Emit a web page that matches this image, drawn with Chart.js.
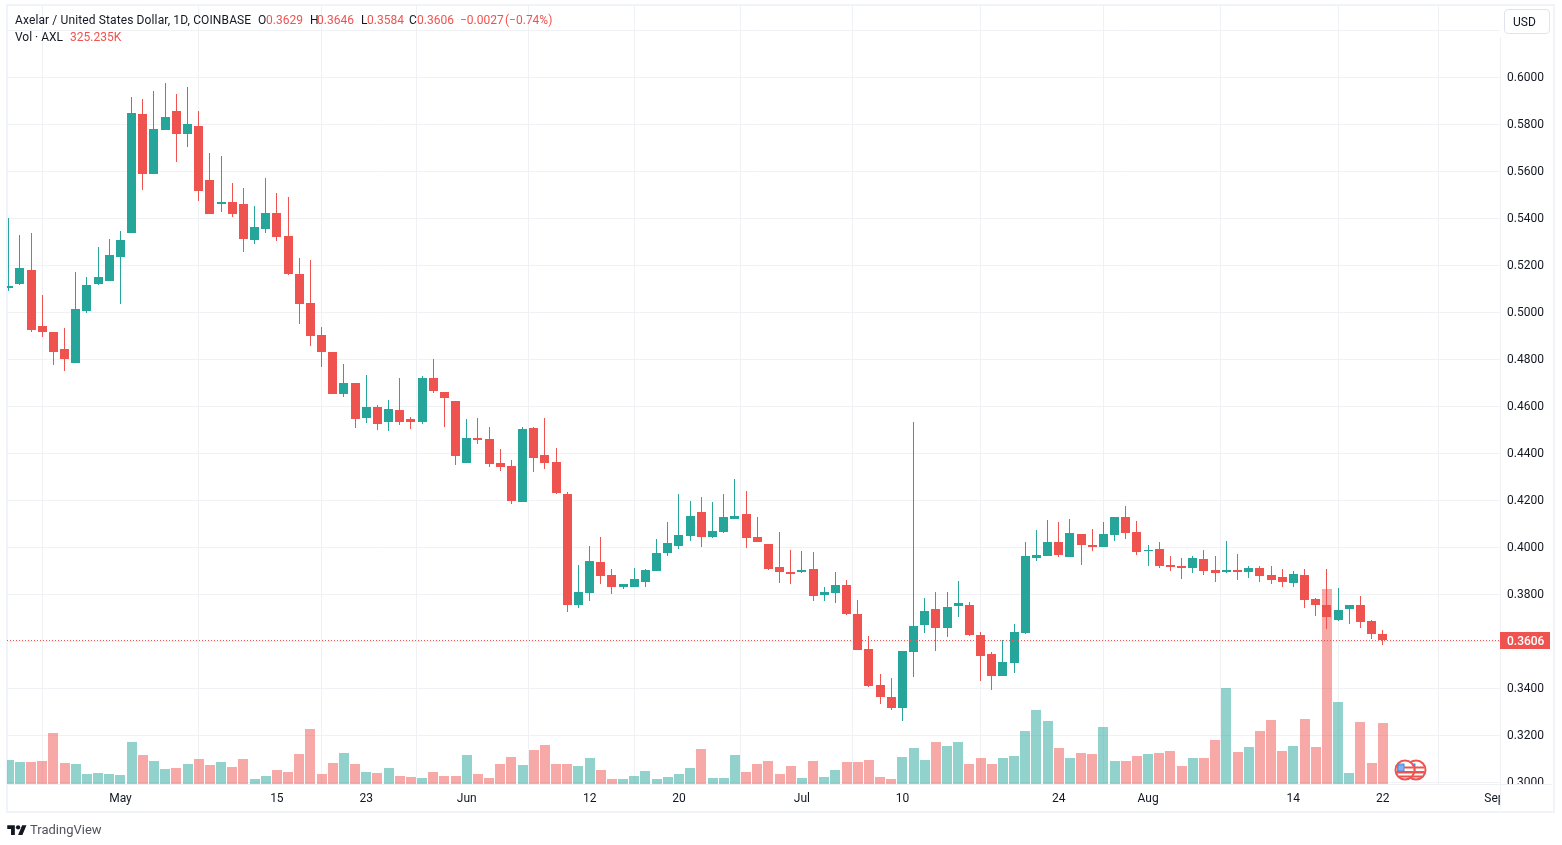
<!DOCTYPE html>
<html>
<head>
<meta charset="utf-8">
<title>AXL/USD</title>
<script src="https://cdn.jsdelivr.net/npm/chart.js@4/dist/chart.umd.js"></script>
<style>
    html, body { margin: 0; padding: 0; background: #fff; }
    body { width: 1562px; height: 845px; position: relative; overflow: hidden; font-family: Roboto, sans-serif; color: #131722; }
    #myChart { position: absolute; left: 0; top: 0; }
    #frame { position: absolute; left: 6px; top: 4px; width: 1545px; height: 805px; border: 2px solid #f0f3fa; }
    .t { position: absolute; font-size: 12px; line-height: 16px; white-space: nowrap; }
    .r { color: #ef5350; }
    #usd { position: absolute; left: 1504px; top: 9px; width: 36px; height: 23px; padding-left: 8px; border: 1px solid #e0e3eb; border-radius: 4px; font-size: 12px; line-height: 24px; }
    #flags { position: absolute; left: 1392px; top: 757px; }
    #logo { position: absolute; left: 7px; top: 823px; }
</style>
</head>
<body>
<div id="frame"></div>
<canvas id="myChart" width="1562" height="845"></canvas>

<div class="t" style="left:15px;top:12px;letter-spacing:0.12px">Axelar / United States Dollar, 1D, COINBASE</div>
<div class="t" style="left:258px;top:12px">O</div><div class="t r" style="left:266px;top:12px">0.3629</div>
<div class="t" style="left:310px;top:12px">H</div><div class="t r" style="left:317px;top:12px">0.3646</div>
<div class="t" style="left:361px;top:12px">L</div><div class="t r" style="left:367px;top:12px">0.3584</div>
<div class="t" style="left:409px;top:12px">C</div><div class="t r" style="left:417px;top:12px">0.3606</div>
<div class="t r" style="left:460px;top:12px">−0.0027</div>
<div class="t r" style="left:505px;top:12px">(−0.74%)</div>
<div class="t" style="left:15px;top:29px">Vol · AXL</div>
<div class="t r" style="left:70px;top:29px">325.235K</div>
<div id="usd">USD</div>

<svg id="flags" width="36" height="26" viewBox="0 0 36 26">
    <defs>
        <g id="flag">
            <circle r="9.5" fill="#fff" stroke="#ef5350" stroke-width="2"/>
            <path d="M-8 -3.5H8V-1.5H-8ZM-8.5 1H8.5V3.5H-8.5ZM-6 5.5H6V7.5H-6Z" fill="#ef5350"/>
            <path d="M-7.5 -6.5H-0.5V1H-8Z" fill="#4a90e2"/>
            <path d="M-7 -3H-1M-7 -1H-1M-5 -6V1M-3 -6V1" stroke="#cfe2f8" stroke-width="0.5"/>
        </g>
    </defs>
    <use href="#flag" x="24" y="13"/>
    <use href="#flag" x="13" y="13"/>
</svg>

<svg id="logo" width="20" height="13" viewBox="0 0 36 24" fill="#131722">
    <path d="M14 22H7V11H0V4h14v18zM28 22h-8l7.5-18h8L28 22z"/>
    <circle cx="20" cy="8" r="4"/>
</svg>
<div class="t" style="left:30px;top:822px;font-size:13px;color:#50535e">TradingView</div>

<script>
// Velas diarias, 21 abr - 22 ago
const opens = [0.5103,0.5120,0.5180,0.4942,0.4916,0.4844,0.4784,0.5006,0.5120,0.5133,
    0.5235,0.5338,0.5844,0.5589,0.5776,0.5857,0.5759,0.5793,0.5563,0.5461,
    0.5469,0.5461,0.5308,0.5354,0.5423,0.5325,0.5163,0.5040,0.4903,0.4831,
    0.4652,0.4699,0.4550,0.4597,0.4533,0.4584,0.4546,0.4533,0.4720,0.4661,
    0.4623,0.4359,0.4465,0.4461,0.4359,0.4346,0.4193,0.4508,0.4393,0.4363,
    0.4227,0.3755,0.3806,0.3938,0.3882,0.3831,0.3831,0.3852,0.3899,0.3976,
    0.4006,0.4048,0.4150,0.4044,0.4065,0.4121,0.4142,0.4044,0.4014,0.3916,
    0.3895,0.3895,0.3908,0.3797,0.3806,0.3840,0.3716,0.3567,0.3414,0.3363,
    0.3316,0.3554,0.3669,0.3738,0.3657,0.3750,0.3755,0.3627,0.3546,0.3452,
    0.3508,0.3635,0.3955,0.3963,0.4023,0.3959,0.4057,0.4010,0.4001,0.4052,
    0.4129,0.4065,0.3984,0.3993,0.3925,0.3921,0.3912,0.3950,0.3903,0.3895,
    0.3903,0.3895,0.3912,0.3882,0.3874,0.3848,0.3882,0.3780,0.3755,0.3691,
    0.3738,0.3755,0.3686,0.3629];
const highs = [0.5401,0.5329,0.5338,0.5074,0.4916,0.4933,0.5172,0.5150,0.5278,0.5312,
    0.5346,0.5916,0.5908,0.5942,0.5976,0.5929,0.5959,0.5857,0.5678,0.5665,
    0.5550,0.5529,0.5452,0.5572,0.5508,0.5491,0.5231,0.5223,0.4938,0.4831,
    0.4780,0.4699,0.4733,0.4606,0.4627,0.4720,0.4555,0.4729,0.4801,0.4661,
    0.4623,0.4546,0.4550,0.4512,0.4418,0.4372,0.4512,0.4512,0.4550,0.4423,
    0.4235,0.3925,0.4006,0.4044,0.3908,0.3844,0.3912,0.3908,0.4035,0.4108,
    0.4227,0.4197,0.4214,0.4193,0.4227,0.4291,0.4240,0.4129,0.4014,0.4065,
    0.3989,0.3984,0.3980,0.3831,0.3895,0.3861,0.3776,0.3623,0.3461,0.3444,
    0.3559,0.4533,0.3784,0.3810,0.3810,0.3857,0.3767,0.3640,0.3554,0.3606,
    0.3674,0.4023,0.4074,0.4116,0.4108,0.4121,0.4057,0.4078,0.4108,0.4129,
    0.4176,0.4112,0.4010,0.4023,0.3963,0.3955,0.3963,0.3989,0.3963,0.4027,
    0.3972,0.3921,0.3921,0.3921,0.3908,0.3899,0.3908,0.3784,0.3908,0.3827,
    0.3755,0.3793,0.3691,0.3646];
const lows = [0.5091,0.5116,0.4916,0.4895,0.4776,0.4750,0.4784,0.4997,0.5116,0.5133,
    0.5035,0.5338,0.5521,0.5589,0.5776,0.5640,0.5703,0.5474,0.5418,0.5427,
    0.5406,0.5257,0.5291,0.5338,0.5303,0.5159,0.4950,0.4857,0.4767,0.4652,
    0.4640,0.4508,0.4529,0.4499,0.4495,0.4520,0.4503,0.4525,0.4657,0.4512,
    0.4350,0.4359,0.4440,0.4342,0.4325,0.4184,0.4193,0.4320,0.4333,0.4227,
    0.3725,0.3742,0.3772,0.3844,0.3801,0.3823,0.3831,0.3831,0.3899,0.3963,
    0.3993,0.4027,0.4001,0.4040,0.4061,0.4121,0.3997,0.4023,0.3903,0.3848,
    0.3844,0.3891,0.3772,0.3772,0.3763,0.3712,0.3563,0.3406,0.3333,0.3308,
    0.3261,0.3448,0.3635,0.3559,0.3618,0.3703,0.3623,0.3431,0.3393,0.3452,
    0.3465,0.3631,0.3942,0.3963,0.3959,0.3959,0.3925,0.3984,0.4001,0.4027,
    0.4035,0.3967,0.3921,0.3912,0.3899,0.3865,0.3891,0.3882,0.3852,0.3891,
    0.3861,0.3869,0.3852,0.3844,0.3831,0.3831,0.3742,0.3708,0.3652,0.3686,
    0.3674,0.3657,0.3610,0.3584];
const closes = [0.5112,0.5189,0.4925,0.4916,0.4831,0.4801,0.5014,0.5116,0.5150,0.5244,
    0.5308,0.5848,0.5589,0.5780,0.5831,0.5759,0.5801,0.5516,0.5418,0.5469,
    0.5418,0.5312,0.5363,0.5423,0.5320,0.5163,0.5035,0.4899,0.4831,0.4652,
    0.4699,0.4546,0.4597,0.4525,0.4589,0.4533,0.4533,0.4720,0.4665,0.4635,
    0.4389,0.4465,0.4457,0.4355,0.4342,0.4197,0.4503,0.4380,0.4359,0.4231,
    0.3755,0.3810,0.3942,0.3878,0.3831,0.3844,0.3865,0.3903,0.3976,0.4018,
    0.4052,0.4133,0.4044,0.4069,0.4129,0.4133,0.4040,0.4023,0.3908,0.3895,
    0.3886,0.3903,0.3793,0.3810,0.3840,0.3716,0.3563,0.3410,0.3363,0.3316,
    0.3559,0.3665,0.3729,0.3657,0.3746,0.3763,0.3627,0.3537,0.3452,0.3512,
    0.3640,0.3963,0.3967,0.4023,0.3967,0.4061,0.4010,0.4001,0.4057,0.4129,
    0.4061,0.3980,0.3989,0.3921,0.3916,0.3912,0.3955,0.3899,0.3891,0.3903,
    0.3895,0.3912,0.3878,0.3861,0.3852,0.3886,0.3776,0.3755,0.3703,0.3733,
    0.3755,0.3682,0.3631,0.3606];
// Volumen en miles de AXL
const volumes = [128,117,117,123,272,112,107,53,59,53,
    48,224,155,123,80,85,107,133,101,117,
    91,133,27,43,75,64,160,293,53,112,
    165,107,64,59,85,43,37,32,64,43,
    43,155,53,32,107,144,101,181,208,107,
    107,96,139,75,27,27,43,69,27,37,
    53,85,187,32,32,155,64,107,123,53,
    96,32,123,37,75,117,117,128,37,27,
    144,192,128,224,203,224,107,139,107,139,
    149,283,394,336,192,139,165,160,304,123,
    123,149,160,165,176,96,139,139,235,512,
    171,197,283,341,176,203,346,197,1039,437,
    59,330,112,325.235];

const xTickIndex = [10, 24, 32, 41, 52, 60, 71, 80, 94, 102, 115, 123, 133];
const xTickLabels = ['May', '15', '23', 'Jun', '12', '20', 'Jul', '10', '24', 'Aug', '14', '22', 'Sep'];
const yTicks = [0.30, 0.32, 0.34, 0.36, 0.38, 0.40, 0.42, 0.44, 0.46, 0.48, 0.50, 0.52, 0.54, 0.56, 0.58, 0.60, 0.62];
const lastPrice = 0.3606;

const UP = '#26a69a';
const DOWN = '#ef5350';
const GRID = '#f0f1f5';
const FONT = 'Roboto, sans-serif';

const isUp = opens.map((o, i) => closes[i] >= o);
const candleColors = isUp.map(up => up ? UP : DOWN);
const volumeColors = isUp.map(up => up ? 'rgba(38,166,154,0.5)' : 'rgba(239,83,80,0.5)');

const X_MIN = -0.16;
const X_MAX = 133.5;

// Ajusta barras y línea al pixel para que queden nítidas
const snapBars = {
    id: 'snapBars',
    beforeDatasetsDraw(chart) {
        chart.data.datasets.forEach((ds, i) => {
            const els = chart.getDatasetMeta(i).data;
            if (ds.type === 'line') {
                els.forEach(el => { el.y = Math.round(el.y) + 0.5; });
                return;
            }
            els.forEach(el => {
                el.x = ds.label === 'Vol' ? Math.round(el.x) : Math.floor(el.x) + 0.5;
                el.y = Math.round(el.y);
                el.base = Math.round(el.base);
                if (el.y === el.base) el.base = el.y + 1;
            });
        });
    }
};

// Marco del eje de precios y etiqueta del último precio
const axisDecor = {
    id: 'axisDecor',
    afterDraw(chart) {
        const { ctx, scales } = chart;
        ctx.save();
        ctx.fillStyle = '#fff';
        ctx.fillRect(1500, 785, 52, 24);
        ctx.fillStyle = GRID;
        ctx.fillRect(1500, 37, 1, 772);
        ctx.fillRect(8, 784, 1544, 1);

        const y = Math.round(scales.y.getPixelForValue(lastPrice));
        ctx.fillStyle = DOWN;
        ctx.fillRect(1500, y - 8, 50, 17);
        ctx.fillStyle = '#fff';
        ctx.font = '500 12px ' + FONT;
        ctx.textBaseline = 'middle';
        ctx.fillText(lastPrice.toFixed(4), 1507, y + 2);
        ctx.restore();
    }
};

function initChart() {
    const ctx = document.getElementById('myChart').getContext('2d');
    const xs = opens.map((_, i) => i);

    new Chart(ctx, {
        type: 'bar',
        plugins: [snapBars, axisDecor],
        data: {
            datasets: [
                {
                    type: 'line',
                    label: 'Last',
                    data: [{ x: X_MIN, y: lastPrice }, { x: X_MAX, y: lastPrice }],
                    borderColor: DOWN,
                    borderWidth: 1,
                    borderDash: [1, 2],
                    pointRadius: 0,
                    order: 0
                },
                {
                    label: 'Body',
                    data: xs.map(i => ({ x: i, y: [Math.min(opens[i], closes[i]), Math.max(opens[i], closes[i])] })),
                    backgroundColor: candleColors,
                    barThickness: 9,
                    grouped: false,
                    inflateAmount: 0,
                    order: 1
                },
                {
                    label: 'Wick',
                    data: xs.map(i => ({ x: i, y: [lows[i], highs[i]] })),
                    backgroundColor: candleColors,
                    barThickness: 1,
                    grouped: false,
                    inflateAmount: 0,
                    order: 2
                },
                {
                    label: 'Vol',
                    data: xs.map(i => ({ x: i, y: volumes[i] })),
                    backgroundColor: volumeColors,
                    barThickness: 10,
                    grouped: false,
                    inflateAmount: 0,
                    yAxisID: 'yVol',
                    order: 3
                }
            ]
        },
        options: {
            responsive: false,
            animation: false,
            events: [],
            layout: { padding: { left: 7, top: 6, right: 0, bottom: 0 } },
            plugins: { legend: { display: false }, tooltip: { enabled: false } },
            scales: {
                x: {
                    type: 'linear',
                    min: X_MIN,
                    max: X_MAX,
                    offset: false,
                    grid: { color: GRID, drawTicks: false },
                    border: { display: false },
                    afterBuildTicks: scale => { scale.ticks = xTickIndex.map(value => ({ value })); },
                    afterFit: scale => { scale.height = 61; },
                    ticks: {
                        autoSkip: false,
                        maxRotation: 0,
                        padding: 8,
                        color: '#131722',
                        font: { family: FONT, size: 12 },
                        callback: value => xTickLabels[xTickIndex.indexOf(value)]
                    }
                },
                y: {
                    position: 'right',
                    min: 0.29928,
                    max: 0.63034,
                    grid: { color: GRID, drawTicks: false },
                    border: { display: false },
                    afterBuildTicks: scale => { scale.ticks = yTicks.map(value => ({ value })); },
                    afterFit: scale => {
                        scale.width = 62;
                        scale.paddingTop = 0;
                        scale.paddingBottom = 0;
                    },
                    ticks: {
                        padding: 7,
                        labelOffset: 1,
                        color: '#131722',
                        font: { family: FONT, size: 12 },
                        callback: value => value > 0.61 ? '' : value.toFixed(4)
                    }
                },
                yVol: {
                    display: false,
                    position: 'left',
                    min: 0,
                    max: 4147
                }
            }
        }
    });
}

document.addEventListener('DOMContentLoaded', initChart);
</script>
</body>
</html>
